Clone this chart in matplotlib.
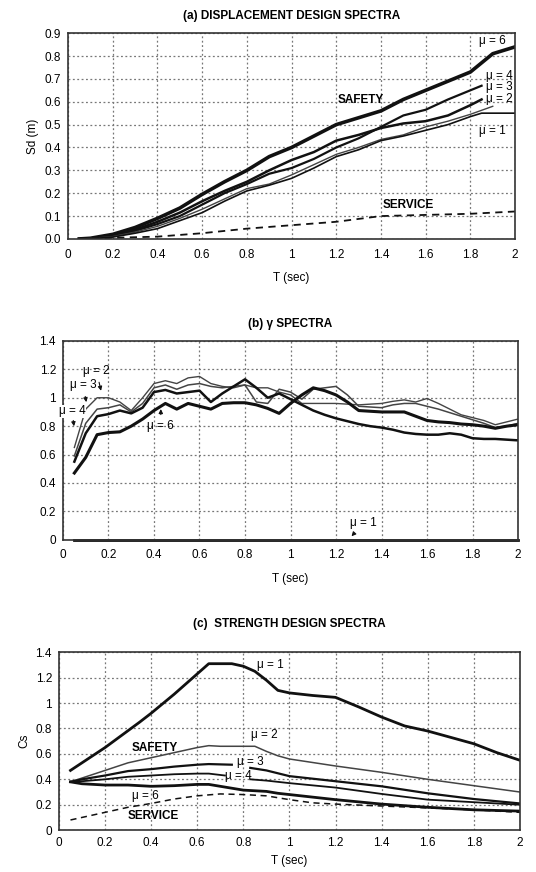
import matplotlib
matplotlib.use("Agg")
import matplotlib.pyplot as plt
import numpy as np

plt.rcParams['font.family'] = ['Liberation Sans', 'DejaVu Sans']

nan = np.nan

# ---------- (a) displacement design spectra ----------
Ta_6 = [0.05, 0.1, 0.2, 0.3, 0.4, 0.5, 0.6, 0.7, 0.8, 0.9, 1.0, 1.1, 1.2, 1.3, 1.4, 1.5, 1.6, 1.7, 1.8, 1.9, 2.0]
Sd_6 = [0, 0.003, 0.02, 0.05, 0.09, 0.135, 0.195, 0.25, 0.30, 0.36, 0.40, 0.45, 0.50, 0.53, 0.56, 0.61, 0.65, 0.69, 0.73, 0.81, 0.84]
Ta_4 = [0.05, 0.1, 0.2, 0.3, 0.4, 0.5, 0.6, 0.7, 0.8, 0.9, 1.0, 1.1, 1.2, 1.3, 1.4, 1.5, 1.6, 1.7, 1.8, 1.85]
Sd_4 = [0, 0.002, 0.012, 0.035, 0.065, 0.10, 0.15, 0.20, 0.24, 0.285, 0.31, 0.35, 0.40, 0.44, 0.49, 0.54, 0.565, 0.61, 0.65, 0.67]
Ta_3 = [0.05, 0.1, 0.2, 0.3, 0.4, 0.5, 0.6, 0.7, 0.8, 0.9, 1.0, 1.1, 1.2, 1.3, 1.4, 1.5, 1.6, 1.7, 1.8, 1.85]
Sd_3 = [0, 0.002, 0.015, 0.04, 0.075, 0.115, 0.165, 0.21, 0.25, 0.30, 0.345, 0.38, 0.43, 0.455, 0.485, 0.505, 0.515, 0.54, 0.585, 0.61]
Ta_2 = [0.05, 0.1, 0.2, 0.3, 0.4, 0.5, 0.6, 0.7, 0.8, 0.9, 1.0, 1.1, 1.2, 1.3, 1.4, 1.5, 1.6, 1.7, 1.8, 1.9]
Sd_2 = [0, 0.002, 0.01, 0.03, 0.055, 0.09, 0.13, 0.175, 0.22, 0.24, 0.28, 0.325, 0.37, 0.40, 0.435, 0.455, 0.49, 0.515, 0.545, 0.58]
Ta_1 = [0.05, 0.1, 0.2, 0.3, 0.4, 0.5, 0.6, 0.7, 0.8, 0.9, 1.0, 1.1, 1.2, 1.3, 1.4, 1.5, 1.6, 1.7, 1.8, 1.85, 2.0]
Sd_1 = [0, 0.001, 0.008, 0.025, 0.045, 0.08, 0.115, 0.165, 0.21, 0.235, 0.265, 0.31, 0.36, 0.39, 0.43, 0.45, 0.475, 0.50, 0.535, 0.55, 0.55]
Ta_sv = [0.05, 0.2, 0.4, 0.6, 0.8, 1.0, 1.2, 1.4, 1.6, 1.8, 2.0]
Sd_sv = [0, 0.005, 0.01, 0.025, 0.045, 0.06, 0.075, 0.10, 0.105, 0.11, 0.12]

# ---------- (b) gamma spectra ----------
Tb = [0.05, 0.10, 0.15, 0.20, 0.25, 0.30, 0.35, 0.40, 0.45, 0.50,
      0.55, 0.60, 0.65, 0.70, 0.75, 0.80, 0.85, 0.90, 0.95, 1.00,
      1.05, 1.10, 1.15, 1.20, 1.25, 1.30, 1.35, 1.40, 1.45, 1.50,
      1.55, 1.60, 1.65, 1.70, 1.75, 1.80, 1.85, 1.90, 1.95, 2.00]
G_6 = [0.47, 0.58, 0.74, 0.755, 0.76, 0.80, 0.85, 0.91, 0.96, 0.92,
       0.96, 0.94, 0.92, 0.96, 0.965, 0.965, 0.95, 0.925, 0.89, 0.96,
       1.02, 1.07, 1.05, 1.02, 0.97, 0.91, 0.905, 0.90, 0.90, 0.90,
       0.87, 0.84, 0.83, 0.825, 0.815, 0.81, 0.80, 0.785, 0.80, 0.81]
G_4 = [0.55, 0.75, 0.87, 0.885, 0.91, 0.89, 0.93, 1.04, 1.055, 1.03,
       1.04, 1.05, 0.97, 1.03, 1.08, 1.13, 1.07, 1.00, 1.03, 0.99,
       0.95, 0.91, 0.88, 0.855, 0.835, 0.815, 0.80, 0.79, 0.775, 0.755,
       0.745, 0.74, 0.74, 0.75, 0.74, 0.715, 0.71, 0.71, 0.705, 0.70]
G_3 = [0.59, 0.82, 0.92, 0.93, 0.95, 0.90, 0.96, 1.07, 1.09, 1.06,
       1.09, 1.10, 1.08, 1.07, 1.08, 1.09, 0.97, 0.96, 1.06, 1.04,
       0.99, 1.06, 1.07, 1.08, 1.02, 0.94, 0.935, 0.93, 0.95, 0.96,
       0.96, 0.94, 0.92, 0.895, 0.87, 0.845, 0.82, 0.79, 0.80, 0.82]
G_2 = [0.65, 0.92, 1.00, 1.00, 0.97, 0.91, 1.00, 1.10, 1.12, 1.10,
       1.14, 1.15, 1.10, 1.08, 1.07, 1.09, 1.07, 1.07, 1.04, 1.02,
       0.96, 0.96, 0.96, 0.96, 0.955, 0.95, 0.955, 0.96, 0.975, 0.985,
       0.97, 0.995, 0.96, 0.92, 0.88, 0.86, 0.84, 0.81, 0.83, 0.85]
Tb_1 = [0.05, 2.0]
G_1 = [0.0, 0.0]

# ---------- (c) strength design spectra ----------
Tc_1 = [0.05, 0.2, 0.35, 0.4, 0.5, 0.6, 0.65, 0.75, 0.8, 0.85, 0.9, 0.95, 1.0, 1.1, 1.2, 1.3, 1.4, 1.5, 1.6, 1.7, 1.8, 1.9, 2.0]
Cs_1 = [0.47, 0.65, 0.85, 0.92, 1.07, 1.23, 1.31, 1.31, 1.29, 1.25, 1.18, 1.10, 1.08, 1.06, 1.045, 0.97, 0.89, 0.82, 0.78, 0.73, 0.68, 0.61, 0.55]
Tc_2 = [0.05, 0.1, 0.2, 0.3, 0.4, 0.5, 0.6, 0.65, 0.7, 0.8, 0.85, 0.9, 0.95, 1.0, 1.2, 1.4, 1.6, 1.8, 2.0]
Cs_2 = [0.38, 0.41, 0.47, 0.53, 0.57, 0.61, 0.65, 0.665, 0.66, 0.66, 0.66, 0.62, 0.585, 0.56, 0.505, 0.455, 0.40, 0.35, 0.30]
Tc_3 = [0.05, 0.1, 0.2, 0.3, 0.4, 0.5, 0.6, 0.65, 0.75, 0.8, 0.83, 0.9, 1.0, 1.2, 1.4, 1.6, 1.8, 2.0]
Cs_3 = [0.38, 0.40, 0.43, 0.465, 0.48, 0.50, 0.515, 0.52, 0.515, nan, 0.49, 0.47, 0.425, 0.385, 0.345, 0.29, 0.245, 0.21]
Tc_4 = [0.05, 0.1, 0.2, 0.3, 0.4, 0.5, 0.6, 0.65, 0.72, 0.78, 0.83, 0.9, 1.0, 1.2, 1.4, 1.6, 1.8, 2.0]
Cs_4 = [0.38, 0.385, 0.40, 0.42, 0.43, 0.44, 0.445, 0.445, 0.43, nan, 0.40, 0.39, 0.37, 0.335, 0.285, 0.24, 0.22, 0.20]
Tc_6 = [0.05, 0.1, 0.2, 0.3, 0.4, 0.5, 0.6, 0.65, 0.7, 0.8, 0.9, 0.95, 1.0, 1.2, 1.4, 1.6, 1.8, 2.0]
Cs_6 = [0.38, 0.365, 0.355, 0.355, 0.345, 0.35, 0.36, 0.36, 0.345, 0.315, 0.305, 0.29, 0.28, 0.24, 0.205, 0.18, 0.16, 0.15]
Tc_sv = [0.05, 0.2, 0.3, 0.4, 0.5, 0.6, 0.7, 0.8, 0.9, 1.0, 1.1, 1.2, 1.4, 1.6, 1.8, 2.0]
Cs_sv = [0.08, 0.14, 0.18, 0.21, 0.245, 0.27, 0.285, 0.28, 0.27, 0.24, 0.215, 0.205, 0.19, 0.175, 0.16, 0.14]

x_ticks = [0, 0.2, 0.4, 0.6, 0.8, 1, 1.2, 1.4, 1.6, 1.8, 2]
x_ticklabels = ['0', '0.2', '0.4', '0.6', '0.8', '1', '1.2', '1.4', '1.6', '1.8', '2']
ya_ticks = [0.0, 0.1, 0.2, 0.3, 0.4, 0.5, 0.6, 0.7, 0.8, 0.9]
ya_ticklabels = ['0.0', '0.1', '0.2', '0.3', '0.4', '0.5', '0.6', '0.7', '0.8', '0.9']
yb_ticks = [0, 0.2, 0.4, 0.6, 0.8, 1.0, 1.2, 1.4]
yb_ticklabels = ['0', '0.2', '0.4', '0.6', '0.8', '1', '1.2', '1.4']

fig = plt.figure(figsize=(5.36, 8.72), dpi=100)
axa = fig.add_axes([0.127, 0.726, 0.834, 0.236])
axb = fig.add_axes([0.1175, 0.381, 0.849, 0.228])
axc = fig.add_axes([0.110, 0.048, 0.860, 0.204])

TICKFS = 8.5
DARK = '#111111'
GRAY = '#444444'


def style(ax, yt, ytl, ylim, xpad=7, lpad=8):
    ax.set_xlim(0, 2)
    ax.set_ylim(*ylim)
    ax.set_xticks(x_ticks)
    ax.set_xticklabels(x_ticklabels, fontsize=TICKFS)
    ax.set_yticks(yt)
    ax.set_yticklabels(ytl, fontsize=TICKFS)
    ax.grid(True, linestyle=(0, (1.5, 2)), color='#777777', linewidth=0.9)
    ax.tick_params(axis='x', length=0, pad=xpad)
    ax.tick_params(axis='y', length=0, pad=5)
    for s in ax.spines.values():
        s.set_color('#333333')
        s.set_linewidth(1.2)
    ax.set_xlabel('T (sec)', fontsize=8.5, labelpad=lpad)


# (a)
axa.plot(Ta_6, Sd_6, color=DARK, lw=2.6)
axa.plot(Ta_4, Sd_4, color=DARK, lw=1.6)
axa.plot(Ta_3, Sd_3, color=DARK, lw=1.8)
axa.plot(Ta_2, Sd_2, color=GRAY, lw=1.0)
axa.plot(Ta_1, Sd_1, color=DARK, lw=1.2)
axa.plot(Ta_sv, Sd_sv, color=DARK, lw=1.3, ls=(0, (4, 3)))
style(axa, ya_ticks, ya_ticklabels, (0, 0.9))
axa.set_ylabel('Sd (m)', fontsize=8.5, labelpad=4)
axa.set_title('(a) DISPLACEMENT DESIGN SPECTRA', fontsize=8.5, fontweight='bold', pad=10)
for txt, x, y in [('μ = 6', 1.90, 0.865), ('μ = 4', 1.93, 0.713), ('μ = 3', 1.93, 0.663),
                  ('μ = 2', 1.93, 0.613), ('μ = 1', 1.90, 0.473)]:
    axa.text(x, y, txt, fontsize=8.5, ha='center', va='center')
axa.text(1.31, 0.609, 'SAFETY', fontsize=8.5, fontweight='bold', ha='center', va='center')
axa.text(1.52, 0.15, 'SERVICE', fontsize=8.5, fontweight='bold', ha='center', va='center')

# (b)
axb.plot(Tb, G_2, color=GRAY, lw=1.0)
axb.plot(Tb, G_3, color=GRAY, lw=1.1)
axb.plot(Tb, G_4, color=DARK, lw=1.8)
axb.plot(Tb, G_6, color=DARK, lw=2.2)
axb.plot(Tb_1, G_1, color=DARK, lw=2.0, clip_on=False)
style(axb, yb_ticks, yb_ticklabels, (0, 1.4))
axb.set_title('(b) γ SPECTRA', fontsize=8.5, fontweight='bold', pad=10)
arr = dict(arrowstyle='-|>', color=DARK, lw=0.8, mutation_scale=6)
bg = dict(facecolor='white', edgecolor='none', pad=0.3)
axb.annotate('μ = 2', xy=(0.17, 1.03), xytext=(0.147, 1.19), fontsize=8.5, ha='center', va='center', arrowprops=arr)
axb.annotate('μ = 3', xy=(0.105, 0.95), xytext=(0.088, 1.09), fontsize=8.5, ha='center', va='center', arrowprops=arr)
axb.annotate('μ = 4', xy=(0.05, 0.78), xytext=(0.04, 0.905), fontsize=8.5, ha='center', va='center',
             arrowprops=arr, bbox=bg, annotation_clip=False)
axb.annotate('μ = 6', xy=(0.43, 0.94), xytext=(0.43, 0.80), fontsize=8.5, ha='center', va='center', arrowprops=arr)
axb.annotate('μ = 1', xy=(1.26, 0.01), xytext=(1.32, 0.117), fontsize=8.5, ha='center', va='center', arrowprops=arr)

# (c)
axc.plot(Tc_1, Cs_1, color=DARK, lw=2.0)
axc.plot(Tc_2, Cs_2, color=GRAY, lw=1.1)
axc.plot(Tc_3, Cs_3, color=DARK, lw=1.6)
axc.plot(Tc_4, Cs_4, color=DARK, lw=1.3)
axc.plot(Tc_6, Cs_6, color=DARK, lw=2.0)
axc.plot(Tc_sv, Cs_sv, color=DARK, lw=1.1, ls=(0, (4, 3)))
style(axc, yb_ticks, yb_ticklabels, (0, 1.4), xpad=5, lpad=4)
axc.set_ylabel('Cs', fontsize=8.5, labelpad=4)
axc.set_title('(c)  STRENGTH DESIGN SPECTRA', fontsize=8.5, fontweight='bold', pad=18)
for txt, x, y in [('μ = 1', 0.917, 1.30), ('μ = 2', 0.89, 0.75), ('μ = 3', 0.83, 0.54),
                  ('μ = 4', 0.78, 0.425), ('μ = 6', 0.375, 0.27)]:
    axc.text(x, y, txt, fontsize=8.5, ha='center', va='center')
axc.text(0.415, 0.65, 'SAFETY', fontsize=8.5, fontweight='bold', ha='center', va='center')
axc.text(0.41, 0.11, 'SERVICE', fontsize=8.5, fontweight='bold', ha='center', va='center')

fig.savefig('out.png', dpi=100)
